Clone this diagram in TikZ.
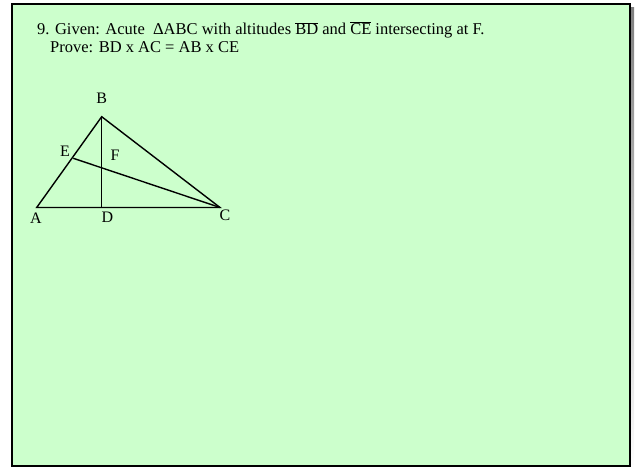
\documentclass[tikz,border=0pt]{standalone}
\usepackage{fontspec}
\setmainfont{Liberation Serif}
\definecolor{slide}{HTML}{CCFFCC}
\definecolor{shade}{HTML}{808080}
\newcommand{\ovl}[1]{\(\overline{\hbox{#1}}\)}
\begin{document}
\begin{tikzpicture}[x=1pt,y=-1pt,
  txt/.style={anchor=base west,inner sep=0pt,font=\fontsize{16.5}{18}\selectfont},
  lbl/.style={inner sep=0pt,font=\fontsize{16}{18}\selectfont},
  seg/.style={line width=1.4pt}]
\useasboundingbox (0,0) rectangle (637,470);
\fill[shade] (16,8) rectangle (634,470);
\filldraw[fill=slide,draw=black,line width=1.6pt] (12,4) rectangle (630,466);
\node[txt] (l1) at (37,35) {9. Given: Acute \ ΔABC with altitudes \ovl{BD} and \ovl{CE} intersecting at F.};
\node[txt] (l2) at (50,53) {Prove: BD x AC = AB x CE};
\coordinate (A) at (36.7,207.5);
\coordinate (B) at (101.7,116.7);
\coordinate (C) at (220,207.5);
\coordinate (D) at (101.7,207.5);
\coordinate (E) at (73.3,158.3);
\draw[seg] (A) -- (B) -- (C) -- cycle;
\draw[seg] (B) -- (D);
\draw[seg] (E) -- (C);
\node[lbl] (lB) at (101.7,98.3) {B};
\node[lbl] (lE) at (65,151.7) {E};
\node[lbl] (lF) at (115,155) {F};
\node[lbl] (lA) at (36,218.3) {A};
\node[lbl] (lD) at (107.3,217.3) {D};
\node[lbl] (lC) at (225,215) {C};
\end{tikzpicture}
\end{document}
